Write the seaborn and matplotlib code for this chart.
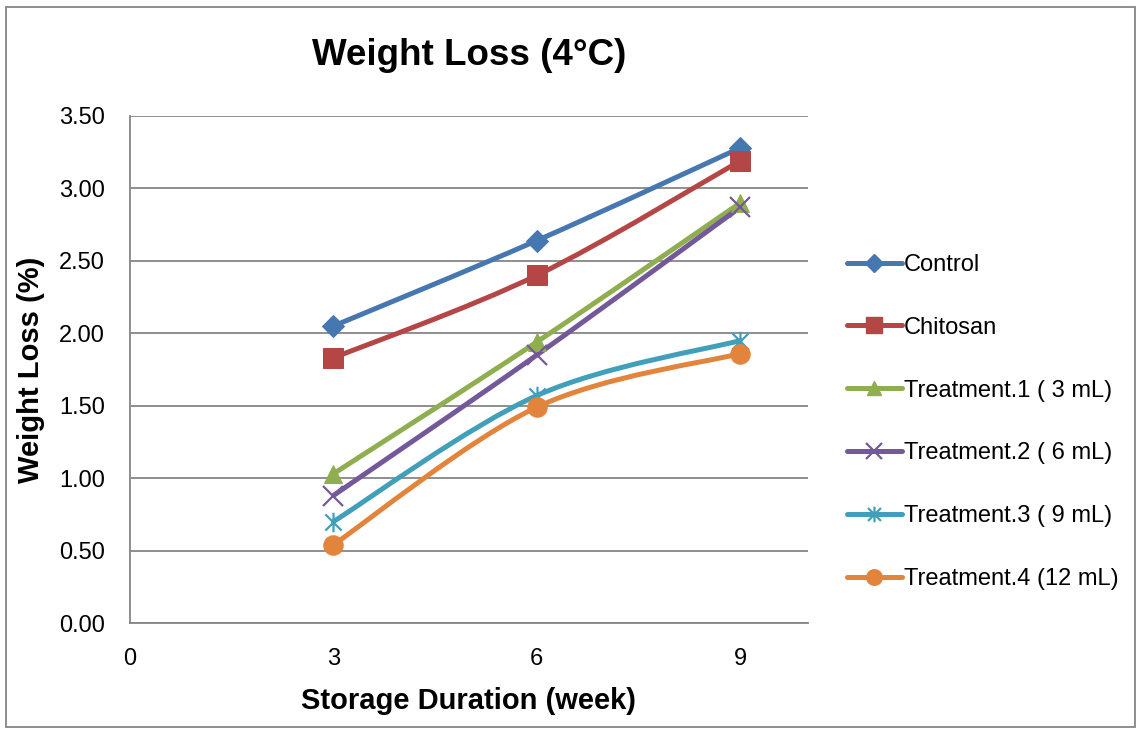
import numpy as np
import pandas as pd
import matplotlib
matplotlib.use("Agg")
import matplotlib.pyplot as plt
import seaborn as sns
from matplotlib.path import Path
from matplotlib.patches import PathPatch, Rectangle
from matplotlib.lines import Line2D
from matplotlib.markers import MarkerStyle

weeks = [3, 6, 9]
series_names = ["Control", "Chitosan", "Treatment.1 ( 3 mL)", "Treatment.2 ( 6 mL)",
                "Treatment.3 ( 9 mL)", "Treatment.4 (12 mL)"]
control = [2.05, 2.64, 3.28]
chitosan = [1.83, 2.40, 3.19]
treatment1 = [1.03, 1.94, 2.90]
treatment2 = [0.88, 1.85, 2.87]
treatment3 = [0.70, 1.57, 1.95]
treatment4 = [0.54, 1.49, 1.86]
x_ticks = [0, 3, 6, 9]
y_ticks = [0.0, 0.5, 1.0, 1.5, 2.0, 2.5, 3.0, 3.5]

values = [control, chitosan, treatment1, treatment2, treatment3, treatment4]
colors = ["#4677B0", "#B44745", "#8FAE4F", "#74599A", "#419FB9", "#E3843C"]

star = MarkerStyle(Path([(-1, -1), (1, 1), (-1, 1), (1, -1), (0, -1.2), (0, 1.2)],
                        [Path.MOVETO, Path.LINETO, Path.MOVETO, Path.LINETO, Path.MOVETO, Path.LINETO]))
markers = ["D", "s", "^", "x", star, "o"]
msizes = [11, 14, 13, 14, 14, 14]
filled = [True, True, True, False, False, True]

df = pd.DataFrame({
    "week": weeks * len(series_names),
    "loss": [v for s in values for v in s],
    "series": [n for n in series_names for _ in weeks],
})

sns.set_style("white")
plt.rcParams["font.family"] = ["Liberation Sans", "DejaVu Sans"]
plt.rcParams["text.color"] = "black"
plt.rcParams["axes.labelcolor"] = "black"

fig = plt.figure(figsize=(11.39, 7.29), dpi=100)
ax = fig.add_axes([130 / 1139, 1 - 623 / 729, (808 - 130) / 1139, (623 - 116) / 729])


def smooth_path(xs, ys):
    pts = np.column_stack([xs, ys]).astype(float)
    verts = [pts[0]]
    codes = [Path.MOVETO]
    n = len(pts)
    for i in range(n - 1):
        p0 = pts[i - 1] if i > 0 else pts[i]
        p1 = pts[i]
        p2 = pts[i + 1]
        p3 = pts[i + 2] if i + 2 < n else pts[i + 1]
        c1 = p1 + (p2 - p0) / 6.0
        c2 = p2 - (p3 - p1) / 6.0
        verts += [c1, c2, p2]
        codes += [Path.CURVE4] * 3
    return Path(verts, codes)


handles = []
for name, vals, c, m, ms, f in zip(series_names, values, colors, markers, msizes, filled):
    sub = df[df.series == name]
    ax.add_patch(PathPatch(smooth_path(sub.week.values, sub.loss.values), facecolor="none",
                           edgecolor=c, lw=3.6, capstyle="round", joinstyle="round", zorder=3))
    if f:
        sns.lineplot(data=sub, x="week", y="loss", ax=ax, linestyle="none", marker=m,
                     markersize=ms, markerfacecolor=c, markeredgecolor=c, color=c, zorder=4,
                     legend=False)
    else:
        sns.lineplot(data=sub, x="week", y="loss", ax=ax, linestyle="none", marker=m,
                     markersize=ms, markeredgecolor=c, markeredgewidth=1.6, color=c, zorder=4,
                     legend=False)
    handles.append(Line2D([], [], color=c, lw=3.6, marker=m, markersize=ms * 0.8,
                          markerfacecolor=c if f else "none", markeredgecolor=c,
                          markeredgewidth=1.6 if not f else 1, solid_capstyle="round"))

ax.set_xlim(0, 10)
ax.set_ylim(0, 3.5)
ax.set_xticks(x_ticks)
ax.set_yticks(y_ticks)
ax.set_yticklabels([f"{v:.2f}" for v in y_ticks])
ax.tick_params(axis="both", length=0, labelsize=17, colors="black")
ax.tick_params(axis="y", pad=18)
ax.tick_params(axis="x", pad=18)
ax.grid(axis="y", color="#868686", lw=1.3)
ax.set_axisbelow(True)
for s in ["top", "right"]:
    ax.spines[s].set_visible(False)
for s in ["left", "bottom"]:
    ax.spines[s].set_color("#868686")
    ax.spines[s].set_linewidth(1.3)

ax.set_title("Weight Loss (4°C)", fontsize=26.5, fontweight="bold", pad=37, color="black")
ax.set_xlabel("Storage Duration (week)", fontsize=21, fontweight="bold", labelpad=12)
ax.set_ylabel("Weight Loss (%)", fontsize=21, fontweight="bold", labelpad=10)

fig.legend(handles=handles, labels=series_names, loc="center left",
           bbox_to_anchor=(826 / 1139, 1 - 422 / 729), frameon=False, fontsize=17,
           handlelength=2.3, handletextpad=0.1, labelspacing=1.73)

fig.patches.append(Rectangle((6 / 1139, 2 / 729), 1 - 10 / 1139, 1 - 9 / 729, transform=fig.transFigure,
                             fill=False, edgecolor="#868686", lw=1.3))

fig.savefig("out.png", dpi=100)
